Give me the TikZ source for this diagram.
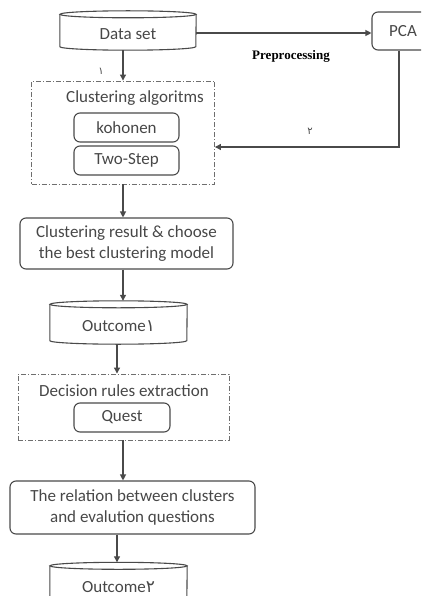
\documentclass[tikz,border=0pt]{standalone}
\usepackage{fontspec}
\setmainfont{Carlito}
\newfontfamily\arabicfont[Script=Arabic]{DejaVu Sans}
\newfontfamily\seriffont{Liberation Serif}
\usetikzlibrary{arrows.meta,calc}

\definecolor{inkline}{HTML}{4A4A4A}
\definecolor{inktext}{HTML}{474747}

% drum (cylinder) outline around a node: #1 = node name, #2 = half width
\newcommand\drum[2]{%
  \draw[boxline] ([yshift=3.5pt]#1.north west) -- ([yshift=3.5pt]#1.south west)
    arc[start angle=180, end angle=360, x radius=#2, y radius=3.5pt]
    -- ([yshift=3.5pt]#1.north east);
  \draw[boxline] ([yshift=3.5pt]#1.north) ellipse[x radius=#2, y radius=3.5pt];
}

\begin{document}
\begin{tikzpicture}[x=1pt,y=1pt,
  every node/.style={text=inktext, font=\fontsize{17}{21.5}\selectfont},
  boxline/.style={draw=inkline, line width=1.1pt},
  roundbox/.style={boxline, rounded corners=6pt, align=center, inner sep=0pt},
  drumbody/.style={draw=none, inner sep=0pt},
  groupbox/.style={draw=inkline!80, line width=0.9pt,
    dash pattern=on 5pt off 2pt on 1pt off 2pt, inner sep=0pt},
  arr/.style={draw=inkline, line width=1.1pt, -{Triangle[length=6pt,width=6pt]}},
  digit/.style={font=\arabicfont\fontsize{10}{12}\selectfont, text=inktext}
]
\useasboundingbox (0,0) rectangle (421,-596);
\clip (0,0) rectangle (421,-596);

% ---- source data and preprocessing ----
\node[drumbody, minimum width=136pt, minimum height=32pt] (data) at (128,-34) {Data set};
\drum{data}{68pt}
\node[roundbox, minimum width=62pt, minimum height=38pt] (pca) at (403,-31) {PCA};
\node[font=\seriffont\bfseries\fontsize{13}{15}\selectfont, text=black] (prep) at (291,-56) {Preprocessing};

% ---- clustering group ----
\node[groupbox, minimum width=183pt, minimum height=103pt] (clus) at (123,-132.5) {};
\node (clustitle) at (135,-98) {Clustering algoritms};
\node[roundbox, minimum width=105pt, minimum height=29pt] (koh) at (126.5,-127.5) {kohonen};
\node[roundbox, minimum width=105pt, minimum height=29pt] (twostep) at (126.5,-160.5) {Two-Step};

\node[roundbox, minimum width=213pt, minimum height=51pt] (res) at (126.5,-243.5)
  {Clustering result \& choose\\ the best clustering model};

\node[drumbody, minimum width=137pt, minimum height=36pt] (out1) at (118.5,-326)
  {Outcome{\arabicfont ١}};
\drum{out1}{68.5pt}

% ---- rule extraction group ----
\node[groupbox, minimum width=211pt, minimum height=66pt] (rules) at (123.5,-407) {};
\node (rulestitle) at (124,-391) {Decision rules extraction};
\node[roundbox, minimum width=96pt, minimum height=29pt] (quest) at (122,-417.5) {Quest};

\node[roundbox, minimum width=245pt, minimum height=53pt] (rel) at (132.5,-507.5)
  {The relation between clusters\\ and evalution questions};

\node[drumbody, minimum width=137pt, minimum height=36pt] (out2) at (118.5,-587.5)
  {Outcome{\arabicfont ٢}};
\drum{out2}{68.5pt}

% ---- step labels ----
\node[digit] (n1) at (101,-71) {١};
\node[digit] (n2) at (310,-131) {٢};

% ---- connectors ----
\draw[arr] (data.east |- 0,-33) -- (pca.west |- 0,-33);
\draw[arr] (data.south -| clus.north) -- (clus.north);
\coordinate (pcadrop) at ([xshift=-4pt]pca.south);
\draw[arr] (pcadrop) |- (clus.east |- 0,-147);
\draw[arr] (clus.south) -- (res.north -| clus.south);
\draw[arr] (res.south -| clus.south) -- ([yshift=7pt]out1.north -| clus.south);
\draw[arr] (out1.south -| 117,0) -- (rules.north -| 117,0);
\draw[arr] (rules.south -| clus.south) -- (rel.north -| clus.south);
\draw[arr] (rel.south -| 117,0) -- ([yshift=7pt]out2.north -| 117,0);
\end{tikzpicture}
\end{document}
